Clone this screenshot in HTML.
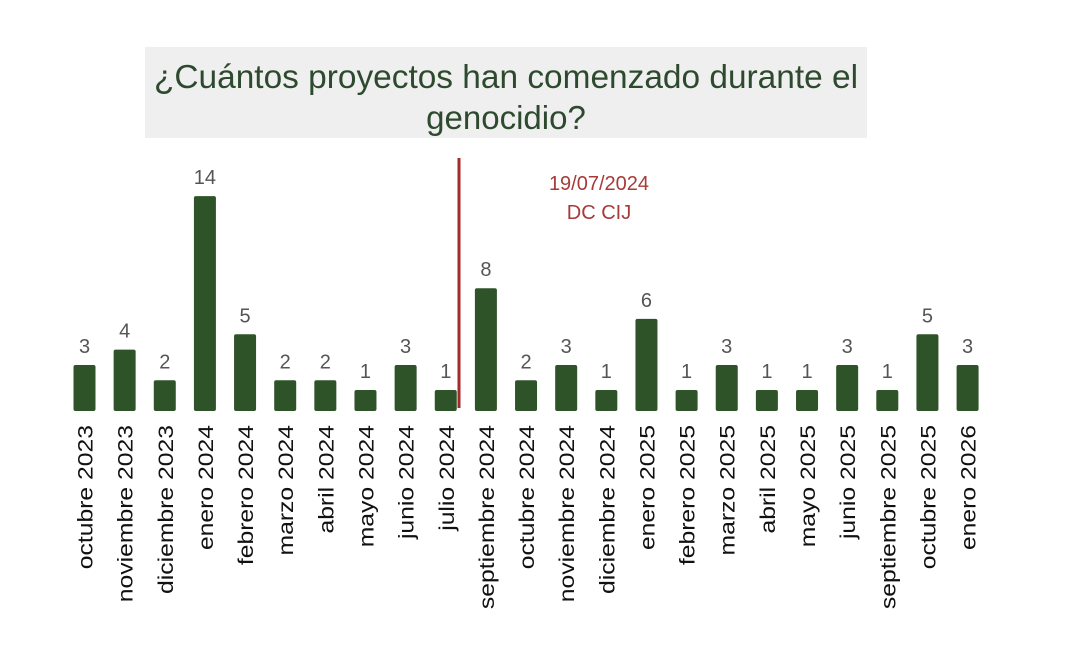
<!DOCTYPE html>
<html><head><meta charset="utf-8"><style>
body{margin:0;background:#fff;width:1067px;height:647px;overflow:hidden}
</style></head><body>
<svg width="1067" height="647" xmlns="http://www.w3.org/2000/svg" font-family="Liberation Sans, DejaVu Sans, sans-serif">
<rect x="145" y="47" width="722" height="91" fill="#efefef"/>
<text x="506" y="88" text-anchor="middle" font-size="33" fill="#2e4a2e" textLength="704" lengthAdjust="spacingAndGlyphs">¿Cuántos proyectos han comenzado durante el</text>
<text x="506" y="129" text-anchor="middle" font-size="33" fill="#2e4a2e">genocidio?</text>
<line x1="459" y1="158" x2="459" y2="408" stroke="#a52a2a" stroke-width="3"/>
<text x="599" y="190" text-anchor="middle" font-size="20" fill="#a83a3a">19/07/2024</text>
<text x="599" y="219" text-anchor="middle" font-size="20" fill="#a83a3a">DC CIJ</text>
<g id="bars"></g>
</svg>
<script>
var d=[["octubre 2023",3],["noviembre 2023",4],["diciembre 2023",2],["enero 2024",14],["febrero 2024",5],["marzo 2024",2],["abril 2024",2],["mayo 2024",1],["junio 2024",3],["julio 2024",1],["septiembre 2024",8],["octubre 2024",2],["noviembre 2024",3],["diciembre 2024",1],["enero 2025",6],["febrero 2025",1],["marzo 2025",3],["abril 2025",1],["mayo 2025",1],["junio 2025",3],["septiembre 2025",1],["octubre 2025",5],["enero 2026",3]];
var g=document.getElementById('bars'),s='',base=411,u=15.35;
d.forEach(function(e,i){var cx=84.5+i*40.14,h=Math.max(e[1]*u,21);
s+='<rect x="'+(cx-11)+'" y="'+(base-h)+'" width="22" height="'+h+'" rx="2" fill="#2f5328"/>';
s+='<text x="'+cx+'" y="'+(base-h-12)+'" text-anchor="middle" font-size="20" fill="#555">'+e[1]+'</text>';
s+='<text transform="translate('+(cx+8)+',425) rotate(-90) scale(1.15,1)" text-anchor="end" font-size="21.5" fill="#111">'+e[0]+'</text>';});
g.innerHTML=s;
</script>
</body></html>
